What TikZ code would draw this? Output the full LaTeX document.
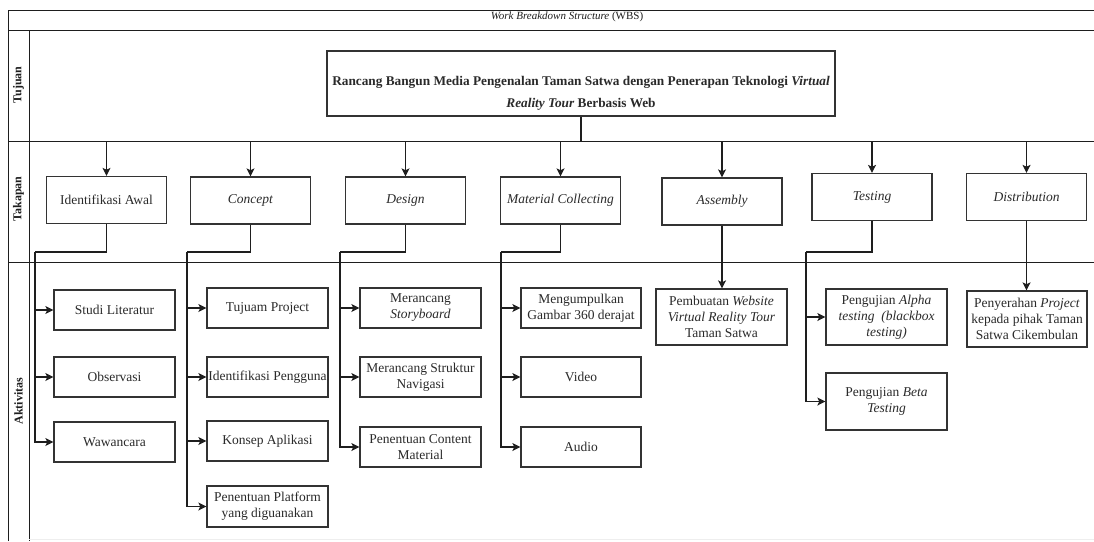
\documentclass[tikz,border=0pt]{standalone}
\usepackage{fontspec}
\setmainfont{Liberation Serif}
\usetikzlibrary{arrows.meta}
\definecolor{ink}{HTML}{1E1E1E}
\definecolor{boxline}{HTML}{333333}
\definecolor{txt}{HTML}{2A2A2A}
\definecolor{faint}{HTML}{EEEEEE}
\begin{document}
\begin{tikzpicture}[x=1pt,y=-1pt,
  box/.style={draw=boxline, line width=1.2pt, fill=white, text=txt, align=center, inner sep=0pt,
    font=\fontsize{13.5}{16}\selectfont},
  sz/.style 2 args={minimum width=#1pt, minimum height=#2pt},
  conn/.style={draw=ink, line width=1.1pt},
  arr/.style={conn, -{Stealth[length=8pt,width=8pt,inset=1.8pt]}},
  frame/.style={draw=ink, line width=1pt},
  lab/.style={rotate=90, font=\bfseries\fontsize{12}{14}\selectfont, text=ink}]
\useasboundingbox (0,0) rectangle (1094,541);
\fill[white] (0,0) rectangle (1094,541);

% frame
\draw[frame] (8,541) -- (8,10.7) -- (1094,10.7);
\draw[frame] (8,30.7) -- (1094,30.7);
\draw[frame] (29,30.7) -- (29,541);
\draw[frame] (8,141) -- (1094,141);
\draw[frame] (8,262) -- (1094,262);
\draw[draw=faint, line width=0.8pt] (29,539.5) -- (1094,539.5);

\coordinate (bus) at (0,141);

% title and row labels
\node[font=\fontsize{11}{13}\selectfont, text=ink] (title) at (567,17) {\textit{Work Breakdown Structure} (WBS)};
\node[lab] (ltujuan) at (18.5,85) {Tujuan};
\node[lab] (ltahapan) at (18.5,199) {Takapan};
\node[lab] (laktiv) at (18.5,401) {Aktivitas};

% goal
\node[box, sz={508}{65}] (main) at (581,83.5) {};
\node[font=\bfseries\fontsize{13.3}{21.5}\selectfont, text=txt, align=center] (maintext) at (581,93.5)
  {Rancang Bangun Media Pengenalan Taman Satwa dengan Penerapan Teknologi \textit{Virtual}\\\textit{Reality Tour} Berbasis Web};
\draw[conn] (main.south) -- (main.south |- bus);

% stages
\node[box, sz={120}{47}] (idawal) at (106.5,200) {Identifikasi Awal};
\node[box, sz={120}{47}] (concept) at (250.5,200.5) {\textit{Concept}};
\node[box, sz={120}{47}] (design) at (405.5,200.5) {\textit{Design}};
\node[box, sz={120}{47}] (material) at (560.5,200.5) {\textit{Material Collecting}};
\node[box, sz={120}{47}] (assembly) at (722,201.5) {\textit{Assembly}};
\node[box, sz={120}{47}] (testing) at (872,197) {\textit{Testing}};
\node[box, sz={120}{47}] (distrib) at (1026.5,197) {\textit{Distribution}};

\foreach \n in {idawal,concept,design,material,assembly,testing,distrib}
  \draw[arr] (\n |- bus) -- (\n);

% activities column 1
\node[box, sz={121}{40}] (studi) at (114.5,310) {Studi Literatur};
\node[box, sz={121}{40}] (observasi) at (114.5,377) {Observasi};
\node[box, sz={121}{40}] (wawancara) at (114.5,442) {Wawancara};
% column 2
\node[box, sz={121}{40}] (tujuam) at (267.5,308) {Tujuam Project};
\node[box, sz={121}{40}] (pengguna) at (267.5,377) {Identifikasi Pengguna};
\node[box, sz={121}{40}] (konsep) at (267.5,441) {Konsep Aplikasi};
\node[box, sz={121}{41}] (platform) at (267.5,506.5) {Penentuan Platform\\yang diguanakan};
% column 3
\node[box, sz={121}{40}] (storyboard) at (420.5,308) {Merancang\\\textit{Storyboard}};
\node[box, sz={121}{40}] (navigasi) at (420.5,377) {Merancang Struktur\\Navigasi};
\node[box, sz={121}{40}] (content) at (420.5,447) {Penentuan Content\\Material};
% column 4
\node[box, sz={120}{40}] (gambar) at (581,308) {Mengumpulkan\\Gambar 360 derajat};
\node[box, sz={120}{40}] (video) at (581,377) {Video};
\node[box, sz={120}{40}] (audio) at (581,447) {Audio};
% column 5
\node[box, sz={131}{56}] (pembuatan) at (721.5,317) {Pembuatan \textit{Website}\\\textit{Virtual Reality Tour}\\Taman Satwa};
% column 6
\node[box, sz={121}{56}] (alpha) at (886.5,317) {Pengujian \textit{Alpha}\\\textit{testing~~(blackbox}\\\textit{testing)}};
\node[box, sz={121}{57}] (beta) at (886.5,401.5) {Pengujian \textit{Beta}\\\textit{Testing}};
% column 7
\node[box, sz={120}{56}] (penyerahan) at (1027,319) {Penyerahan \textit{Project}\\kepada pihak Taman\\Satwa Cikembulan};

% bend points
\coordinate (k1) at (35,252);
\coordinate (k2) at (187,252);
\coordinate (k3) at (340,252);
\coordinate (k4) at (501,252);
\coordinate (k6) at (806,252);

\draw[conn] (idawal.south) |- (k1);
\draw[conn] (concept.south) |- (k2);
\draw[conn] (design.south) |- (k3);
\draw[conn] (material.south) |- (k4);
\draw[conn] (testing.south) |- (k6);

\foreach \c in {studi,observasi,wawancara} \draw[arr] (k1) |- (\c.west);
\foreach \c in {tujuam,pengguna,konsep,platform} \draw[arr] (k2) |- (\c.west);
\foreach \c in {storyboard,navigasi,content} \draw[arr] (k3) |- (\c.west);
\foreach \c in {gambar,video,audio} \draw[arr] (k4) |- (\c.west);
\foreach \c in {alpha,beta} \draw[arr] (k6) |- (\c.west);

\draw[arr] (assembly.south) -- (assembly.south |- pembuatan.north);
\draw[arr] (distrib.south) -- (distrib.south |- penyerahan.north);
\end{tikzpicture}
\end{document}
